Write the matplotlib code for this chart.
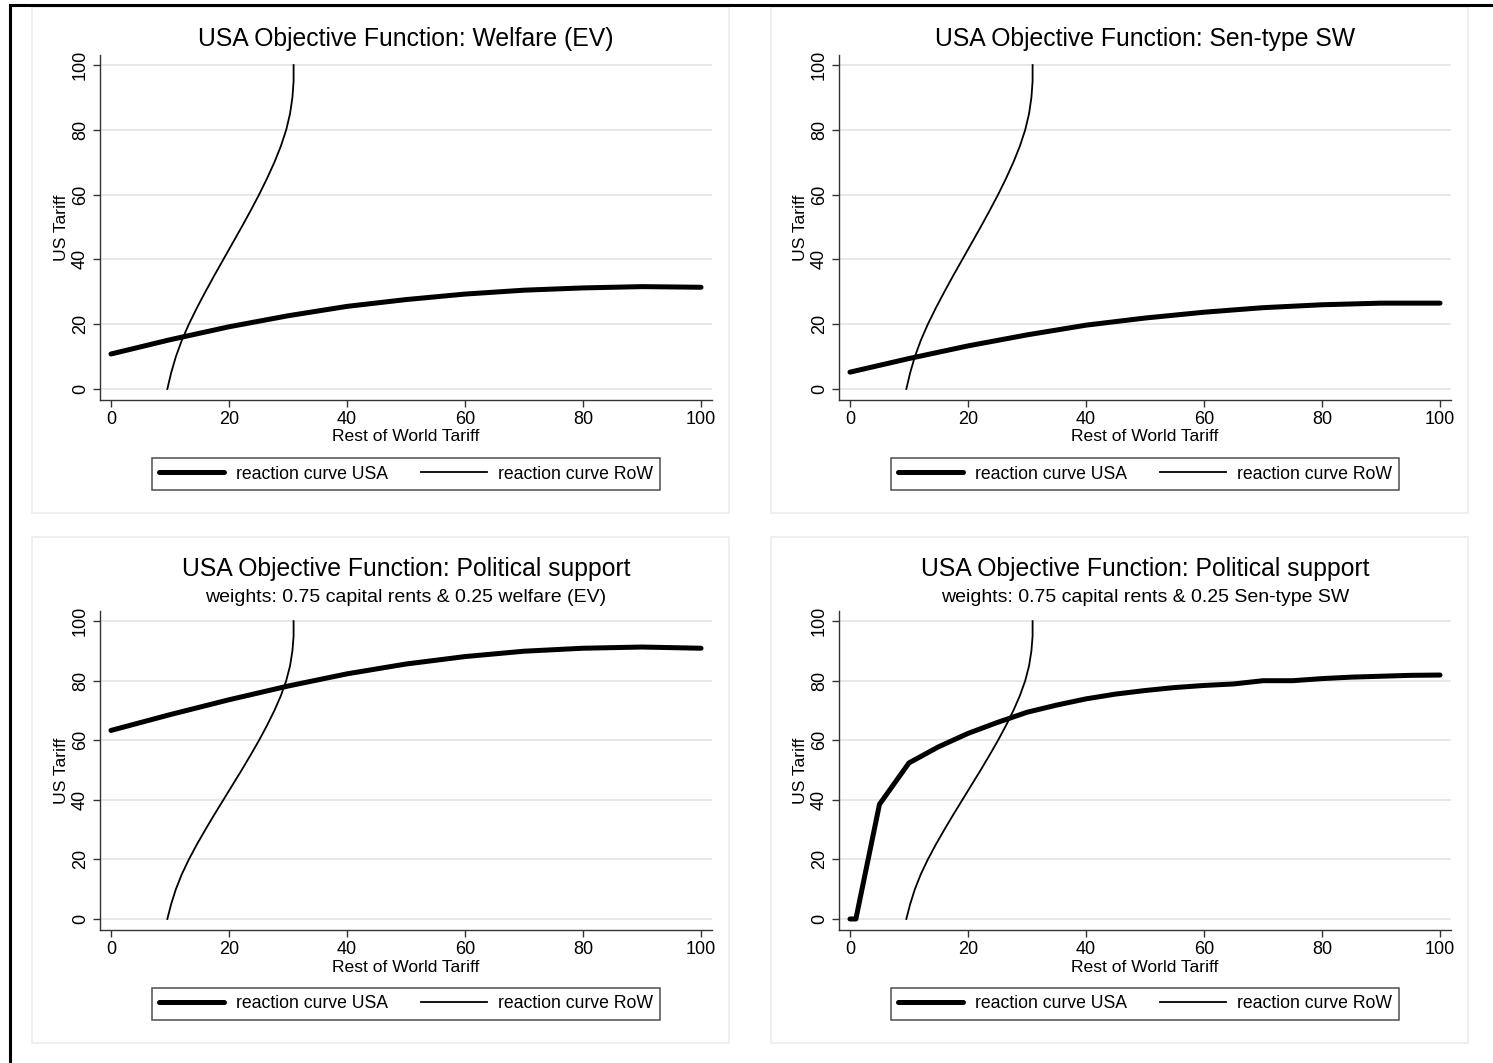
import matplotlib
matplotlib.use("Agg")
import matplotlib.pyplot as plt
from matplotlib.lines import Line2D
from matplotlib.patches import Rectangle

plt.rcParams['font.family'] = ['Liberation Sans', 'DejaVu Sans']

W, H = 1493, 1063

# reaction curve RoW (same in every panel): RoW tariff as function of US tariff
row_y = [0, 5, 10, 15, 20, 25, 30, 35, 40, 45, 50, 55, 60, 65, 70, 75, 80, 85, 90, 95, 100]
row_x = [9.55, 10.2, 11.0, 12.0, 13.2, 14.55, 16.0, 17.5, 19.05, 20.6, 22.15, 23.65, 25.1,
         26.45, 27.7, 28.8, 29.7, 30.35, 30.75, 30.95, 30.95]

# reaction curves USA
usa_x = [0, 10, 20, 30, 40, 50, 60, 70, 80, 90, 100]
usa_ev = [10.8, 15.2, 19.2, 22.6, 25.5, 27.6, 29.3, 30.5, 31.2, 31.6, 31.4]
usa_sen = [5.2, 9.4, 13.3, 16.7, 19.7, 21.9, 23.7, 25.1, 26.0, 26.5, 26.5]
usa_pol_ev = [63.3, 68.6, 73.6, 78.2, 82.3, 85.6, 88.1, 89.9, 90.9, 91.3, 90.9]

usa_pol_sen_x = [0, 1, 5, 10, 15, 20, 25, 30, 35, 40, 45, 50, 55, 60, 65, 70, 75, 80, 85, 90, 95, 100]
usa_pol_sen = [0, 0, 38.5, 52.4, 57.8, 62.3, 66.0, 69.4, 71.8, 73.9, 75.5, 76.7, 77.7, 78.4, 78.9,
               80.0, 80.0, 80.7, 81.2, 81.5, 81.8, 81.9]

ticks = [0, 20, 40, 60, 80, 100]

panels = [
    ("USA Objective Function: Welfare (EV)", None, usa_x, usa_ev),
    ("USA Objective Function: Sen-type SW", None, usa_x, usa_sen),
    ("USA Objective Function: Political support", "weights: 0.75 capital rents & 0.25 welfare (EV)",
     usa_x, usa_pol_ev),
    ("USA Objective Function: Political support", "weights: 0.75 capital rents & 0.25 Sen-type SW",
     usa_pol_sen_x, usa_pol_sen),
]


def fx(px):
    return px / W


def fy(py):
    return 1 - py / H


fig = plt.figure(figsize=(W / 100, H / 100), dpi=100)

# outer frame (only top and left edge visible)
fig.add_artist(Line2D([fx(10), 1.0], [fy(5), fy(5)], color='black', lw=2.2))
fig.add_artist(Line2D([fx(10), fx(10)], [fy(5), 0.0], color='black', lw=2.2))

for i, (title, subtitle, ux, uy) in enumerate(panels):
    col, row = i % 2, i // 2
    dx = 739 * col
    dy = 530 * row

    # panel background box, behind the axes
    fig.add_artist(Rectangle((fx(32 + dx), fy(513 + dy)), fx(697), 506 / H,
                             facecolor='white', edgecolor='#ececec', lw=1.2, zorder=-5))

    if row == 0:
        top, bottom = 55, 400
        ylim = (-3.4, 103.1)
        fig.text(fx(406 + dx), fy(39), title, ha='center', va='center', fontsize=17.8)
    else:
        top, bottom = 611, 930
        ylim = (-3.7, 103.4)
        fig.text(fx(406 + dx), fy(569), title, ha='center', va='center', fontsize=17.8)
        fig.text(fx(406 + dx), fy(598), subtitle, ha='center', va='center', fontsize=14)

    left, right = 100 + dx, 712 + dx
    ax = fig.add_axes([fx(left), fy(bottom), (right - left) / W, (bottom - top) / H])
    ax.patch.set_alpha(0)

    ax.plot(ux, uy, color='black', lw=3.6, solid_capstyle='round', label='reaction curve USA')
    ax.plot(row_x, row_y, color='black', lw=1.3, label='reaction curve RoW')

    ax.set_xlim(-1.86, 101.86)
    ax.set_ylim(*ylim)
    ax.set_xticks(ticks)
    ax.set_yticks(ticks)
    ax.tick_params(axis='both', length=5, width=1, color='#333333', labelsize=13)
    ax.tick_params(axis='y', labelrotation=90, pad=3)
    ax.tick_params(axis='x', pad=3)
    for lab in ax.get_yticklabels():
        lab.set_va('center')
    ax.grid(axis='y', color='#e8e8e8', lw=1.4)
    ax.set_axisbelow(True)
    for s in ['top', 'right']:
        ax.spines[s].set_visible(False)
    for s in ['left', 'bottom']:
        ax.spines[s].set_color('#333333')
        ax.spines[s].set_linewidth(1.0)

    ax.set_xlabel('Rest of World Tariff', fontsize=12.6, labelpad=1)
    ax.set_ylabel('US Tariff', fontsize=12.6, labelpad=2)

    ly = 474 + dy
    leg = ax.legend(loc='center', bbox_to_anchor=(fx(406 + dx), fy(ly)),
                    bbox_transform=fig.transFigure, ncol=2, fontsize=12.7,
                    frameon=True, fancybox=False, edgecolor='#222222',
                    handlelength=3.7, handletextpad=0.65, columnspacing=1.9,
                    borderpad=0.42, borderaxespad=0)
    leg.get_frame().set_linewidth(1.1)

fig.savefig('out.png', dpi=100, facecolor='white')
